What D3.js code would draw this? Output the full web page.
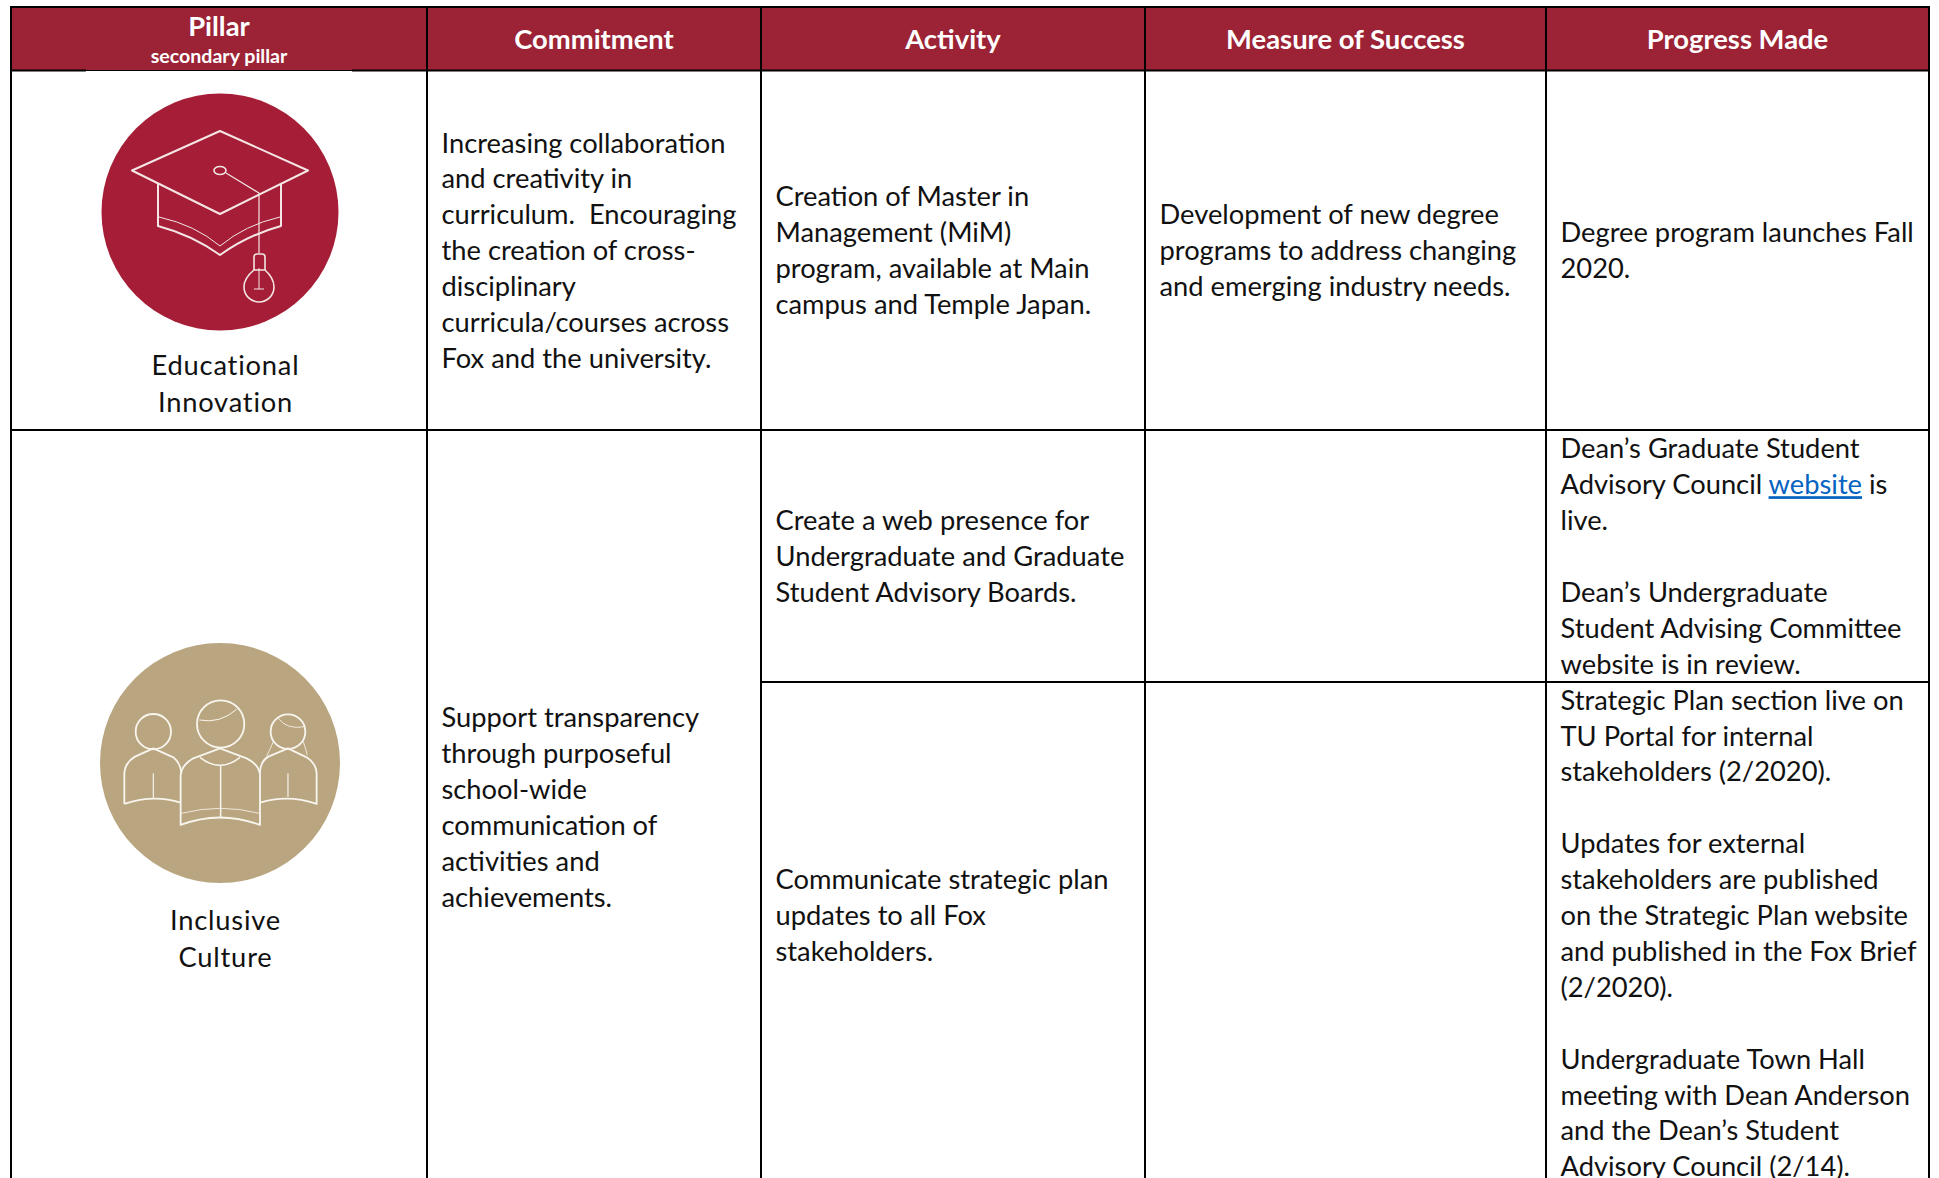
<!DOCTYPE html>
<html><head><meta charset="utf-8">
<script src="https://cdn.jsdelivr.net/npm/d3@7"></script>
<style>html,body{margin:0;padding:0;background:#fff;overflow:hidden}svg{display:block}text{white-space:pre}</style>
</head><body><div id="chart"></div>
<script>
const headers = ["Pillar","Commitment","Activity","Measure of Success","Progress Made"];
const subHeader = "secondary pillar";
const pillarLabels = [["Educational","Innovation"],["Inclusive","Culture"]];
const commitments = [
 ["Increasing collaboration","and creativity in","curriculum.  Encouraging","the creation of cross-","disciplinary","curricula/courses across","Fox and the university."],
 ["Support transparency","through purposeful","school-wide","communication of","activities and","achievements."]
];
const activities = [
 ["Creation of Master in","Management (MiM)","program, available at Main","campus and Temple Japan."],
 ["Create a web presence for","Undergraduate and Graduate","Student Advisory Boards."],
 ["Communicate strategic plan","updates to all Fox","stakeholders.",""]
];
const measures = [["Development of new degree","programs to address changing","and emerging industry needs."],[],[]];
const progress = [
 ["Degree program launches Fall","2020."],
 ["Dean’s Graduate Student","Advisory Council website is","live.","","Dean’s Undergraduate","Student Advising Committee","website is in review."],
 ["Strategic Plan section live on","TU Portal for internal","stakeholders (2/2020).","","Updates for external","stakeholders are published","on the Strategic Plan website","and published in the Fox Brief","(2/2020).","","Undergraduate Town Hall","meeting with Dean Anderson","and the Dean’s Student","Advisory Council (2/14)."]
];
const linkLine = "Advisory Council website is", linkWord = "website";

const W=1939,H=1178, FONT="Lato, 'Open Sans', sans-serif";
const colEdges=[11,427,761,1145,1546,1929];
const rowEdges=[7,70.5,430,682,1184];
const PITCH=35.9, BODY=27.3, PAD=14.5, BASE=10;
const RED="#9b2335", INK="#111";

const x=d3.scaleOrdinal().domain(headers).range(colEdges.slice(0,5));
const xEnd=d3.scaleOrdinal().domain(headers).range(colEdges.slice(1));

const svg=d3.select("#chart").append("svg").attr("width",W).attr("height",H).attr("viewBox",[0,0,W,H]);
svg.append("rect").attr("width",W).attr("height",H).attr("fill","#fff");

// header band
svg.append("rect").attr("x",colEdges[0]).attr("y",rowEdges[0]).attr("width",colEdges[5]-colEdges[0]).attr("height",rowEdges[1]-rowEdges[0]).attr("fill",RED);
svg.selectAll("text.h").data(headers).join("text").attr("class","h")
 .attr("x",d=>(x(d)+xEnd(d))/2).attr("y",(d,i)=>i===0?36:49)
 .attr("text-anchor","middle").attr("font-family",FONT).attr("font-weight",700)
 .attr("font-size",27.4).attr("fill","#fff").text(d=>d);
svg.append("text").attr("x",(colEdges[0]+colEdges[1])/2).attr("y",63).attr("text-anchor","middle")
 .attr("font-family",FONT).attr("font-weight",700).attr("font-size",19.6).attr("fill","#fff").text(subHeader);

// cells
function cell(lines,col,top,bottom){
  const mid=(top+bottom)/2+BASE, y0=mid-(lines.length-1)*PITCH/2;
  const g=svg.append("g");
  lines.forEach((l,i)=>{
    if(!l) return;
    const t=g.append("text").attr("x",x(headers[col])+PAD).attr("y",y0+i*PITCH)
      .attr("font-family",FONT).attr("font-size",BODY).attr("fill",INK);
    if(l===linkLine){
      const [a,b]=l.split(linkWord);
      t.append("tspan").text(a);
      t.append("tspan").attr("fill","#0563c1").attr("text-decoration","underline").text(linkWord);
      t.append("tspan").text(b);
    } else t.text(l);
  });
}
cell(commitments[0],1,rowEdges[1],rowEdges[2]);
cell(commitments[1],1,rowEdges[2],rowEdges[4]);
activities.forEach((a,i)=>cell(a,2,rowEdges[i+1],rowEdges[i+2]));
measures.forEach((a,i)=>cell(a,3,rowEdges[i+1],rowEdges[i+2]));
progress.forEach((a,i)=>cell(a,4,rowEdges[i+1],rowEdges[i+2]));

// pillar labels
[[375,412],[930,967]].forEach((ys,k)=>{
  pillarLabels[k].forEach((l,i)=>svg.append("text").attr("x",225.5).attr("y",ys[i]).attr("text-anchor","middle")
    .attr("font-family",FONT).attr("font-size",BODY).attr("letter-spacing",0.8).attr("fill",INK).text(l));
});

// grid lines
const line=(x1,y1,x2,y2,w)=>svg.append("line").attr("x1",x1).attr("y1",y1).attr("x2",x2).attr("y2",y2).attr("stroke","#000").attr("stroke-width",w);
colEdges.forEach(c=>line(c,6,c,H,2));
line(10,7,1930,7,2);
line(10,70.5,86,70.5,2); line(86,70.5,352,70.5,1); line(352,70.5,1930,70.5,2);
line(10,430,1930,430,2);
line(761,682,1930,682,2);

// icons (decorative line art)
const icon=(g,d,w)=>g.append("path").attr("d",d).attr("fill","none").attr("stroke-width",w);
svg.append("circle").attr("cx",220).attr("cy",212).attr("r",118.5).attr("fill","#a51d36");
const cap=svg.append("g").attr("stroke","#f3e6e4").attr("stroke-linejoin","round");
icon(cap,"M132 170.5L220 131L308 170.5L220 214Z",2);
icon(cap,"M158 184V226Q192 235 220 255Q248 235 281 226V184",2);
icon(cap,"M159 217Q195 225 220 246Q245 225 280 217",1);
icon(cap,"M226 173L259 193V253",1.2);
cap.append("ellipse").attr("cx",220).attr("cy",170.5).attr("rx",6).attr("ry",4).attr("fill","none").attr("stroke-width",1.6);
icon(cap,"M254 270V257Q254 254 257 254H262Q265 254 265 257V270",1.6);
icon(cap,"M254 270Q244 278 244 287A15 15 0 0 0 274 287Q274 278 265 270Z",1.6);
icon(cap,"M259 268V289M254 289H264",1);

svg.append("circle").attr("cx",220).attr("cy",763).attr("r",120).attr("fill","#b9a57f");
const ppl=svg.append("g").attr("transform","translate(60,620) scale(0.3333)").attr("stroke","#f8f5ee").attr("stroke-linejoin","round");
const circ=(cx,cy,r)=>ppl.append("circle").attr("cx",cx).attr("cy",cy).attr("r",r).attr("fill","none").attr("stroke-width",5.5);
circ(280,335,53);circ(482,312,71);circ(684,335,52);
icon(ppl,"M193 552V460Q195 428 225 410L280 385L340 412Q362 430 364 460M193 552Q280 522 362 548",5.5);
icon(ppl,"M280 460V535",3.5);
icon(ppl,"M362 615V465Q365 435 400 415L480 385L560 415Q598 435 600 465V615Q480 570 362 615Z",5.5);
icon(ppl,"M420 412Q480 460 540 412M482 435V595",4.5);
icon(ppl,"M365 580Q480 550 598 580",2.5);
icon(ppl,"M418 300Q480 312 530 268",3);
icon(ppl,"M655 295Q680 330 735 320M640 365Q632 385 620 408M730 365Q738 390 742 405",2.5);
icon(ppl,"M600 548Q685 522 770 552V460Q768 430 740 412L684 385L625 410Q600 425 600 460",5.5);
icon(ppl,"M684 460V530",3.5);
</script></body></html>
